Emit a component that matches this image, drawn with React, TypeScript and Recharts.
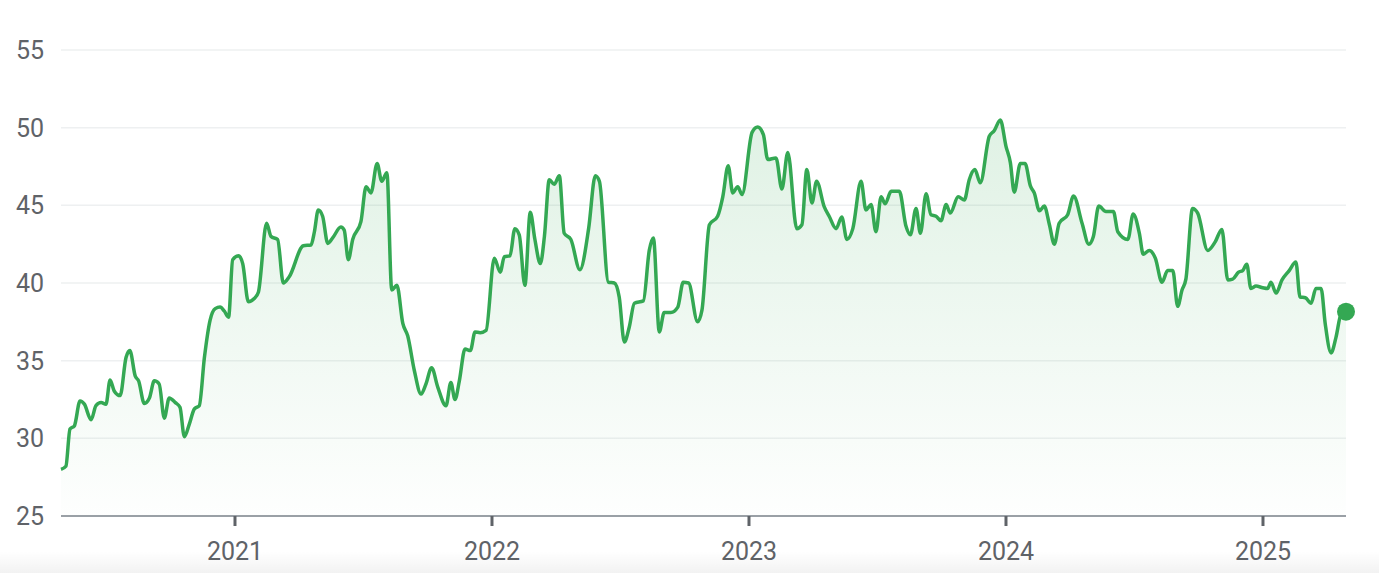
import React from "react";
import {
  ComposedChart,
  Area,
  XAxis,
  YAxis,
  CartesianGrid,
  ReferenceDot,
} from "recharts";

// fractional year of each sample
const times = [
  2020.323, 2020.342, 2020.358, 2020.375, 2020.397, 2020.414, 2020.44, 2020.459, 2020.479, 2020.498,
  2020.514, 2020.53, 2020.553, 2020.576, 2020.591, 2020.612, 2020.625, 2020.647, 2020.667, 2020.686,
  2020.705, 2020.725, 2020.744, 2020.768, 2020.786, 2020.803, 2020.822, 2020.842, 2020.861, 2020.881,
  2020.903, 2020.923, 2020.942, 2020.958, 2020.975, 2020.991, 2021.014, 2021.03, 2021.052, 2021.075,
  2021.091, 2021.123, 2021.14, 2021.166, 2021.188, 2021.211, 2021.266, 2021.296, 2021.309, 2021.324,
  2021.341, 2021.361, 2021.38, 2021.412, 2021.425, 2021.441, 2021.458, 2021.49, 2021.51, 2021.529,
  2021.553, 2021.571, 2021.591, 2021.61, 2021.63, 2021.653, 2021.672, 2021.698, 2021.724, 2021.743,
  2021.765, 2021.789, 2021.821, 2021.84, 2021.856, 2021.873, 2021.895, 2021.916, 2021.934, 2021.954,
  2021.977, 2022.009, 2022.032, 2022.048, 2022.07, 2022.089, 2022.106, 2022.128, 2022.149, 2022.167,
  2022.188, 2022.204, 2022.223, 2022.242, 2022.262, 2022.281, 2022.307, 2022.342, 2022.376, 2022.402,
  2022.418, 2022.453, 2022.476, 2022.495, 2022.515, 2022.534, 2022.554, 2022.589, 2022.612, 2022.628,
  2022.651, 2022.67, 2022.696, 2022.723, 2022.744, 2022.765, 2022.8, 2022.817, 2022.846, 2022.878,
  2022.898, 2022.919, 2022.937, 2022.956, 2022.973, 2023.012, 2023.034, 2023.056, 2023.073, 2023.105,
  2023.128, 2023.151, 2023.186, 2023.206, 2023.225, 2023.245, 2023.263, 2023.293, 2023.312, 2023.339,
  2023.361, 2023.381, 2023.404, 2023.436, 2023.455, 2023.475, 2023.494, 2023.514, 2023.53, 2023.553,
  2023.585, 2023.611, 2023.628, 2023.65, 2023.667, 2023.689, 2023.708, 2023.728, 2023.747, 2023.767,
  2023.783, 2023.814, 2023.838, 2023.857, 2023.879, 2023.9, 2023.935, 2023.954, 2023.978, 2024.0,
  2024.017, 2024.032, 2024.056, 2024.074, 2024.095, 2024.11, 2024.13, 2024.149, 2024.169, 2024.188,
  2024.207, 2024.24, 2024.263, 2024.296, 2024.322, 2024.34, 2024.361, 2024.389, 2024.418, 2024.435,
  2024.474, 2024.495, 2024.519, 2024.534, 2024.558, 2024.581, 2024.607, 2024.629, 2024.649, 2024.668,
  2024.685, 2024.7, 2024.726, 2024.746, 2024.785, 2024.814, 2024.84, 2024.863, 2024.882, 2024.905,
  2024.921, 2024.937, 2024.953, 2024.973, 2024.999, 2025.018, 2025.031, 2025.051, 2025.074, 2025.102,
  2025.128, 2025.144, 2025.165, 2025.187, 2025.206, 2025.226, 2025.242, 2025.265, 2025.284, 2025.304,
  2025.323,
];

const prices = [
  28.0, 28.2, 30.6, 30.8, 32.4, 32.2, 31.2, 32.1, 32.3, 32.2,
  33.75, 33.05, 32.75, 35.2, 35.65, 34.0, 33.7, 32.25, 32.6, 33.7,
  33.5, 31.3, 32.6, 32.3, 32.0, 30.1, 30.9, 31.9, 32.1, 35.2,
  37.6, 38.35, 38.45, 38.2, 37.8, 41.5, 41.75, 41.25, 38.8, 39.0,
  39.4, 43.85, 43.0, 42.8, 40.0, 40.4, 42.4, 42.45, 43.3, 44.7,
  44.3, 42.55, 42.9, 43.6, 43.4, 41.5, 42.8, 43.95, 46.2, 45.8,
  47.7, 46.55, 47.1, 39.55, 39.85, 37.4, 36.6, 34.35, 32.85, 33.5,
  34.55, 33.3, 32.1, 33.6, 32.5, 33.7, 35.75, 35.65, 36.85, 36.8,
  36.95, 41.6, 40.7, 41.7, 41.75, 43.5, 43.1, 39.85, 44.55, 42.8,
  41.25, 43.0, 46.65, 46.35, 46.9, 43.2, 42.8, 40.85, 43.5, 46.9,
  46.55, 40.05, 40.0, 39.1, 36.2, 37.15, 38.7, 38.85, 42.1, 42.9,
  36.85, 38.1, 38.1, 38.45, 40.05, 40.0, 37.5, 38.25, 43.75, 44.3,
  45.55, 47.55, 45.8, 46.2, 45.7, 49.7, 50.05, 49.55, 47.95, 48.05,
  46.05, 48.4, 43.5, 43.75, 47.3, 45.15, 46.55, 44.9, 44.3, 43.5,
  44.25, 42.8, 43.5, 46.55, 44.7, 45.05, 43.3, 45.55, 45.1, 45.9,
  45.9, 43.65, 43.1, 44.8, 43.2, 45.75, 44.4, 44.3, 44.0, 45.05,
  44.5, 45.55, 45.35, 46.65, 47.3, 46.45, 49.45, 49.8, 50.5, 48.8,
  47.75, 45.85, 47.7, 47.7, 46.25, 45.8, 44.65, 44.95, 43.75, 42.5,
  43.85, 44.4, 45.6, 43.85, 42.5, 43.0, 44.95, 44.6, 44.6, 43.3,
  42.8, 44.45, 43.2, 41.85, 42.1, 41.6, 40.05, 40.8, 40.8, 38.5,
  39.55, 40.25, 44.8, 44.5, 42.1, 42.65, 43.45, 40.2, 40.25, 40.7,
  40.8, 41.2, 39.65, 39.8, 39.7, 39.65, 40.05, 39.35, 40.2, 40.8,
  41.35, 39.1, 39.05, 38.7, 39.65, 39.65, 37.4, 35.5, 36.5, 38.0,
  38.15,
];

const yearTicks = [2021, 2022, 2023, 2024, 2025];
const priceTicks = [25, 30, 35, 40, 45, 50, 55];

const GREEN = "#34a853";

const data = times.map((t, i) => ({ t, price: prices[i] }));
const last = data[data.length - 1];

export default function App() {
  return (
    <div
      style={{
        position: "relative",
        width: 1379,
        height: 573,
        background: "#fff",
        fontFamily: "Roboto, sans-serif",
      }}
    >
      <style>{"body{margin:0}"}</style>
      <ComposedChart
        width={1379}
        height={573}
        data={data}
        margin={{ top: 50, right: 33, bottom: 0, left: 0 }}
      >
        <defs>
          <linearGradient id="priceFill" x1="0" y1="0" x2="0" y2="1">
            <stop offset="0%" stopColor={GREEN} stopOpacity={0.26} />
            <stop offset="100%" stopColor={GREEN} stopOpacity={0.01} />
          </linearGradient>
        </defs>
        <CartesianGrid vertical={false} stroke="#eef0f1" strokeWidth={1.5} />
        <XAxis
          dataKey="t"
          type="number"
          domain={[2020.323, 2025.323]}
          ticks={yearTicks}
          tickFormatter={(v) => String(v)}
          height={57}
          stroke="#9aa0a6"
          strokeWidth={2}
          tickSize={10}
          tickMargin={16}
          tickLine={{ stroke: "#5f6368", strokeWidth: 3 }}
          tick={{ fontSize: 25, fill: "#5f6368" }}
        />
        <YAxis
          domain={[25, 55]}
          ticks={priceTicks}
          width={61}
          axisLine={false}
          tickLine={false}
          tickSize={0}
          tickMargin={17}
          tick={{ fontSize: 25, fill: "#5f6368" }}
        />
        <Area
          type="monotone"
          dataKey="price"
          stroke={GREEN}
          strokeWidth={3.5}
          fill="url(#priceFill)"
          dot={false}
          activeDot={false}
          isAnimationActive={false}
        />
        <ReferenceDot
          x={last.t}
          y={last.price}
          r={9}
          fill={GREEN}
          stroke="none"
        />
      </ComposedChart>
      <div
        style={{
          position: "absolute",
          left: 0,
          right: 0,
          bottom: 0,
          height: 22,
          background: "linear-gradient(to bottom, rgba(0,0,0,0), rgba(0,0,0,0.05))",
          pointerEvents: "none",
        }}
      />
    </div>
  );
}
